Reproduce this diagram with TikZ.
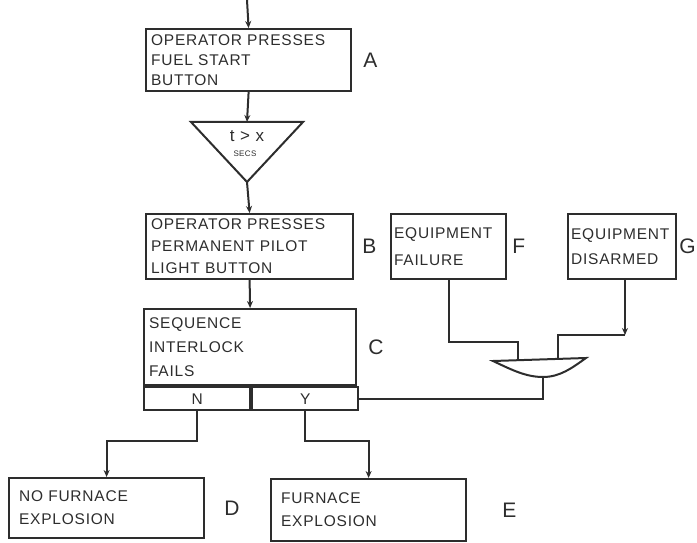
\documentclass[tikz,border=0pt]{standalone}
\usepackage{fontspec}
\setmainfont{Liberation Sans}
\newfontfamily\handfont[LetterSpace=5]{Liberation Sans}
\usetikzlibrary{arrows.meta,positioning,calc}
\definecolor{inkgray}{RGB}{45,45,45}

\begin{document}
\begin{tikzpicture}[x=1pt,y=-1pt,
  every node/.style={text=inkgray},
  lead/.style={font=\handfont\fontsize{15.5}{#1}\selectfont},
  blk/.style={draw=inkgray,line width=2.2pt,rectangle,anchor=north west,align=left,inner sep=5pt,lead=21},
  cell/.style={draw=inkgray,line width=2.2pt,rectangle,anchor=north west,minimum width=106pt,minimum height=23pt,inner sep=0pt,lead=16},
  tag/.style={font=\fontsize{21}{23}\selectfont,inner sep=1pt},
  arr/.style={-{Stealth[length=7pt,width=6pt]},line width=2pt,draw=inkgray},
  wire/.style={line width=2pt,draw=inkgray},
]
\useasboundingbox (0,0) rectangle (697,543);

%% ── Operator actions ─────────────────────────────────────────────────────
\coordinate (feed) at (247,0);
\node[blk,text width=195pt,minimum height=62pt,lead=20] (A) at (145,28)
  {OPERATOR PRESSES\\FUEL START\\BUTTON};
\node[tag,right=10pt of A] (tagA) {A};
\draw[arr] (feed) -- (A.north);

%% Time delay
\coordinate (dl) at (191,122);
\coordinate (dr) at (303,122);
\coordinate (dtop) at (247,122);
\coordinate (dapex) at (247,182);
\draw[wire] (dl) -- (dr) -- (dapex) -- cycle;
\node[font=\handfont\fontsize{17}{18}\selectfont] (delayt) at (247,136) {t > x};
\node[font=\handfont\fontsize{8}{9}\selectfont] (delays) at (245,154) {SECS};
\draw[arr] (A.south) -- (dtop);

\node[blk,text width=197pt,minimum height=65pt,lead=22] (B) at (145,213)
  {OPERATOR PRESSES\\PERMANENT PILOT\\LIGHT BUTTON};
\node[tag,right=7pt of B] (tagB) {B};
\draw[arr] (dapex) -- (B.north);

%% ── Interlock with N / Y outcome row ────────────────────────────────────
\node[blk,text width=202pt,minimum height=76pt,lead=24] (C) at (143,308)
  {SEQUENCE\\INTERLOCK\\FAILS};
\node[tag,right=10pt of C] (tagC) {C};
\node[cell] (cN) at (C.south west) {N};
\node[cell] (cY) at (cN.north east) {Y};
\draw[arr] (B.south) -- (C.north);

%% ── Equipment events and gate ───────────────────────────────────────────
\node[blk,text width=109pt,minimum height=65pt,inner xsep=3pt,lead=27] (F) at (390,213)
  {EQUIPMENT\\FAILURE};
\node[tag,right=4pt of F] (tagF) {F};
\node[blk,text width=102pt,minimum height=65pt,inner xsep=3pt,lead=25] (G) at (567,213)
  {EQUIPMENT\\DISARMED};
\node[tag,right=1pt of G] (tagG) {G};

\coordinate (gl) at (493,361);
\coordinate (gr) at (586,358);
\coordinate (gb) at (543,377);
\coordinate (gin1) at (518,360);
\coordinate (gin2) at (558,359);
\coordinate (gbend) at (625,335);
\draw[wire] (gl) -- (gr) .. controls (572,368) and (560,377) .. (gb)
  .. controls (526,377) and (512,370) .. cycle;
\draw[wire] (F.south) -- ++(0,62) -| (gin1);
\draw[arr] (G.south -| gbend) -- (gbend);
\draw[wire] (gbend) -| (gin2);
\draw[wire] (gb) |- (cY.east);

%% ── Outcomes ─────────────────────────────────────────────────────────────
\node[blk,text width=175pt,minimum height=60pt,inner xsep=10pt,lead=23] (D) at (8,477)
  {NO FURNACE\\EXPLOSION};
\node[tag,right=18pt of D] (tagD) {D};
\node[blk,text width=175pt,minimum height=62pt,inner xsep=10pt,lead=23] (E) at (270,478)
  {FURNACE\\EXPLOSION};
\node[tag,right=34pt of E] (tagE) {E};

\draw[arr] (cN.south) -- ++(0,30) -| (D.north);
\draw[arr] (cY.south) -- ++(0,30) -| (E.north);

\end{tikzpicture}
\end{document}
